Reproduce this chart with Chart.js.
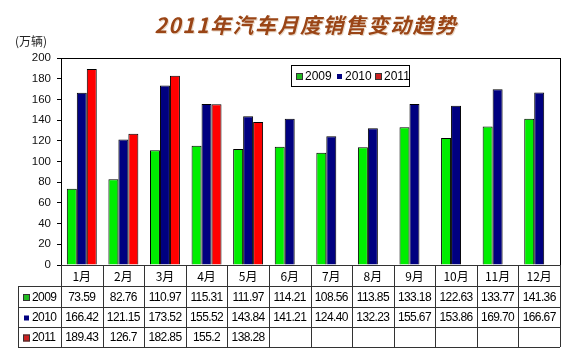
<!DOCTYPE html>
<html><head><meta charset="utf-8">
<script src="https://cdn.jsdelivr.net/npm/chart.js@4"></script>
<style>html,body{margin:0;padding:0;background:#fff;}#c{display:block;}</style>
</head><body>
<canvas id="c" width="572" height="358"></canvas>
<script>
const categories = ['1月','2月','3月','4月','5月','6月','7月','8月','9月','10月','11月','12月'];
const seriesNames = ['2009','2010','2011'];
const s2009 = [73.59,82.76,110.97,115.31,111.97,114.21,108.56,113.85,133.18,122.63,133.77,141.36];
const s2010 = [166.42,121.15,173.52,155.52,143.84,141.21,124.40,132.23,155.67,153.86,169.70,166.67];
const s2011 = [189.43,126.7,182.85,155.2,138.28,null,null,null,null,null,null,null];
const s2010Text = ['166.42','121.15','173.52','155.52','143.84','141.21','124.40','132.23','155.67','153.86','169.70','166.67'];
const yTicks = [0,20,40,60,80,100,120,140,160,180,200];
const titleText = '2011年汽车月度销售变动趋势';
const unitText = '(万辆)';
const colors = ['#00ee00','#000080','#ff0000'];
const legendFill = ['#22bb22','#000080','#cc2020'];

const extras = {
  id:'extras',
  afterDraw(chart){
    const ctx = chart.ctx, a = chart.chartArea, xs = chart.scales.x;
    ctx.save();
    // plot frame
    ctx.strokeStyle='#000'; ctx.lineWidth=1;
    ctx.strokeRect(Math.round(a.left)+0.5, Math.round(a.top)+0.5, Math.round(a.right-a.left), Math.round(a.bottom-a.top));
    // title
    ctx.font='italic bold 21px "Noto Sans CJK SC", "Liberation Sans", sans-serif';
    if ('letterSpacing' in ctx) ctx.letterSpacing='1.5px';
    ctx.textAlign='left'; ctx.textBaseline='middle';
    const tw = ctx.measureText(titleText).width;
    const tx = 306 - tw/2;
    ctx.fillStyle='#e8d8c8';
    ctx.fillText(titleText, tx+1, 26);
    ctx.fillStyle='#9a4516';
    ctx.fillText(titleText, tx, 25);
    if ('letterSpacing' in ctx) ctx.letterSpacing='0px';
    // unit
    ctx.font='12px "Noto Sans CJK SC", sans-serif';
    ctx.fillStyle='#222'; ctx.textAlign='left';
    ctx.fillText(unitText, 15, 41);
    // legend
    const lx=291, ly=65, lw=118, lh=21;
    ctx.fillStyle='#fff'; ctx.fillRect(lx,ly,lw,lh);
    ctx.strokeStyle='#000'; ctx.strokeRect(lx+0.5,ly+0.5,lw,lh);
    ctx.font='12px "Liberation Sans", Arial, sans-serif';
    ctx.textBaseline='middle';
    const lxs=[296,336,375];
    seriesNames.forEach((n,i)=>{
      const sz = i===1?5:7;
      const bx = lxs[i] + (i===1?1:0), by = ly+lh/2 - sz/2 + 1;
      ctx.fillStyle=legendFill[i]; ctx.fillRect(bx,by,sz,sz);
      if(i!==1){ctx.strokeStyle='#333'; ctx.strokeRect(bx+0.5,by+0.5,sz-1,sz-1);}
      ctx.fillStyle='#000'; ctx.textAlign='left';
      ctx.fillText(n, lxs[i]+9, ly+lh/2+1);
    });
    // data table
    const rows=[Math.round(a.bottom), 286, 307, 327, 347];
    const tl=18;
    const w=(a.right-a.left)/categories.length;
    ctx.strokeStyle='#333'; ctx.lineWidth=1;
    ctx.beginPath();
    rows.forEach((y,i)=>{
      const x0 = i===0 ? a.left : tl;
      ctx.moveTo(x0, y+0.5); ctx.lineTo(a.right, y+0.5);
    });
    for(let i=0;i<=categories.length;i++){
      const x=Math.round(a.left+i*w)+0.5;
      ctx.moveTo(x, rows[0]); ctx.lineTo(x, rows[4]);
    }
    ctx.moveTo(tl+0.5, rows[1]); ctx.lineTo(tl+0.5, rows[4]);
    ctx.stroke();
    ctx.fillStyle='#000'; ctx.textAlign='center'; ctx.textBaseline='middle';
    ctx.font='12px "Noto Sans CJK SC", sans-serif';
    categories.forEach((c,i)=>{
      ctx.fillText(c, xs.getPixelForValue(i), (rows[0]+rows[1])/2+1);
    });
    ctx.font='12px "Liberation Sans", Arial, sans-serif';
    if ('letterSpacing' in ctx) ctx.letterSpacing='-0.6px';
    const texts=[s2009.map(v=>String(v)), s2010Text, s2011.map(v=>v==null?'':String(v))];
    texts.forEach((arr,r)=>{
      const cy=(rows[r+1]+rows[r+2])/2+1;
      arr.forEach((t,i)=>{ if(t) ctx.fillText(t, xs.getPixelForValue(i), cy); });
      const sz = r===1?5:7;
      const bx = tl+5 + (r===1?1:0), by = cy - sz/2;
      ctx.fillStyle=legendFill[r]; ctx.fillRect(bx,by,sz,sz);
      if(r!==1){ctx.strokeStyle='#333'; ctx.strokeRect(bx+0.5,by+0.5,sz-1,sz-1);}
      ctx.fillStyle='#000'; ctx.textAlign='left';
      ctx.fillText(seriesNames[r], tl+14, cy);
      ctx.textAlign='center';
    });
    ctx.restore();
  }
};

new Chart(document.getElementById('c'), {
  type:'bar',
  data:{
    labels:categories,
    datasets:[
      {label:seriesNames[0], data:s2009, backgroundColor:colors[0], borderColor:'#000', borderWidth:1},
      {label:seriesNames[1], data:s2010, backgroundColor:colors[1], borderColor:'#000', borderWidth:1},
      {label:seriesNames[2], data:s2011, backgroundColor:colors[2], borderColor:'#000', borderWidth:1}
    ]
  },
  options:{
    responsive:false, animation:false,
    layout:{padding:{top:58, left:16, right:12, bottom:93}},
    datasets:{bar:{barPercentage:1, categoryPercentage:0.72}},
    plugins:{legend:{display:false}, title:{display:false}, tooltip:{enabled:false}},
    scales:{
      x:{display:false, type:'category'},
      y:{
        min:0, max:200,
        afterFit(s){ s.width=45; },
        afterBuildTicks(s){ s.ticks = yTicks.map(v=>({value:v})); },
        ticks:{color:'#111', padding:6, font:{family:'"Liberation Sans", Arial, sans-serif', size:11.5}},
        grid:{drawOnChartArea:false, drawTicks:true, tickLength:4, color:'#000'},
        border:{display:true, color:'#000'}
      }
    }
  },
  plugins:[extras]
});
</script>
</body></html>
